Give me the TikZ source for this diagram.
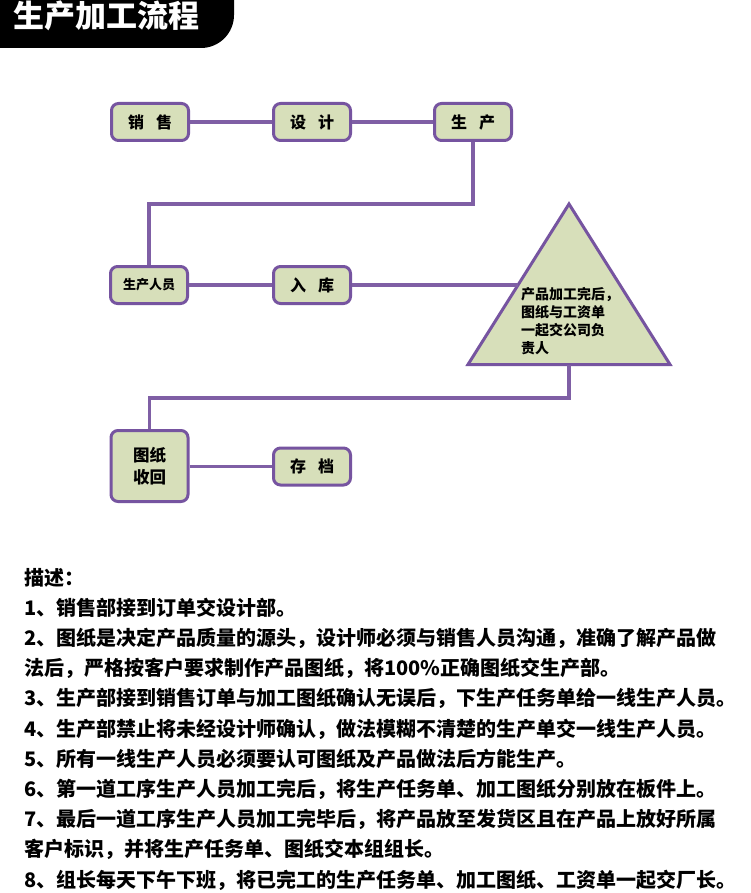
\documentclass[tikz,border=0pt]{standalone}
\usepackage{fontspec}
\newfontfamily\cjk{Noto Sans CJK SC}
\usetikzlibrary{calc}
\definecolor{boxfill}{HTML}{D7DFBA}
\definecolor{boxline}{HTML}{7654A0}
\definecolor{conn}{HTML}{7F5FA5}
\begin{document}
\begin{tikzpicture}[x=1pt,y=-1pt,
  flowbox/.style={draw=boxline, line width=3pt, fill=boxfill, rounded corners=7pt,
    minimum width=77pt, minimum height=37pt, inner sep=0pt, align=center,
    font=\cjk\bfseries\fontsize{16}{22}\selectfont},
  link/.style={draw=conn, line width=3.2pt},
  desc/.style={anchor=west, inner sep=0pt, font=\cjk\bfseries\fontsize{20}{24}\selectfont}]
\useasboundingbox (0,0) rectangle (750,893);
\fill[white] (0,0) rectangle (750,893);
% title banner
\begin{scope}
  \clip (0,0) rectangle (750,893);
  \fill[black, rounded corners=33pt] (-40,-60) rectangle (234,48);
\end{scope}
\node[anchor=west, inner sep=0pt, text=white, font=\cjk\bfseries\fontsize{31}{36}\selectfont] (title) at (13,15.5) {生产加工流程};

% boxes
\node[flowbox] (xs) at (150,122) {销\hspace{0.75em}售};
\node[flowbox] (sj) at (312,122) {设\hspace{0.75em}计};
\node[flowbox] (sc) at (473,122) {生\hspace{0.75em}产};
\node[flowbox, font=\cjk\bfseries\fontsize{13}{16}\selectfont] (ry) at (149,285) {生产人员};
\node[flowbox] (rk) at (312,285) {入\hspace{0.75em}库};
\node[flowbox, minimum height=71pt, font=\cjk\bfseries\fontsize{16.5}{22}\selectfont] (tz) at (149.5,466) {图纸\\收回};
\node[flowbox] (cd) at (312,466.5) {存\hspace{0.75em}档};

% triangle
\coordinate (tA) at (569,204);
\coordinate (tL) at (468,364.5);
\coordinate (tR) at (670,364.5);
\coordinate (tB) at ($(tL)!0.5!(tR)$);
\coordinate (tE) at ($(tA)!0.505!(tL)$);
\draw[draw=boxline, line width=3pt, fill=boxfill] (tA) -- (tL) -- (tR) -- cycle;
\node[anchor=west, align=left, inner sep=0pt, font=\cjk\bfseries\fontsize{14}{18}\selectfont] (tt) at (521,321) {产品加工完后，\\图纸与工资单\\一起交公司负\\责人};

% junction levels
\coordinate (j1) at (0,204);
\coordinate (j2) at (0,398);

% connectors
\draw[link] (xs.east) -- (sj.west);
\draw[link] (sj.east) -- (sc.west);
\draw[link] (sc.south) -- (sc.south |- j1) -| (ry.north);
\draw[link] (ry.east) -- (rk.west);
\draw[link] (rk.east) -- (rk.east -| tE);
\draw[link] (tB) -- (tB |- j2) -| (tz.north);
\draw[link] (tz.east |- cd.west) -- (cd.west);

% description
\node[desc] (d0) at (24,578) {描述：};
\node[desc] (d1) at (24,608.2) {1、销售部接到订单交设计部。};
\node[desc] (d2) at (24,638.4) {2、图纸是决定产品质量的源头，设计师必须与销售人员沟通，准确了解产品做};
\node[desc] (d3) at (24,668.6) {法后，严格按客户要求制作产品图纸，将100\%正确图纸交生产部。};
\node[desc] (d4) at (24,698.8) {3、生产部接到销售订单与加工图纸确认无误后，下生产任务单给一线生产人员。};
\node[desc] (d5) at (24,729) {4、生产部禁止将未经设计师确认，做法模糊不清楚的生产单交一线生产人员。};
\node[desc] (d6) at (24,759.2) {5、所有一线生产人员必须要认可图纸及产品做法后方能生产。};
\node[desc] (d7) at (24,789.4) {6、第一道工序生产人员加工完后，将生产任务单、加工图纸分别放在板件上。};
\node[desc] (d8) at (24,819.6) {7、最后一道工序生产人员加工完毕后，将产品放至发货区且在产品上放好所属};
\node[desc] (d9) at (24,849.8) {客户标识，并将生产任务单、图纸交本组组长。};
\node[desc] (d10) at (24,880) {8、组长每天下午下班，将已完工的生产任务单、加工图纸、工资单一起交厂长。};
\end{tikzpicture}
\end{document}
